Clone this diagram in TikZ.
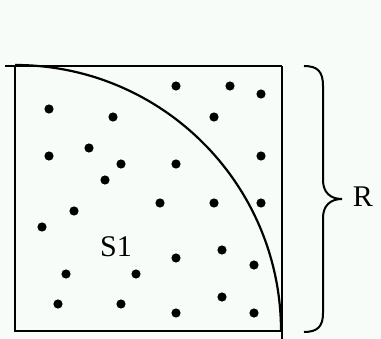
\documentclass[tikz,border=0pt]{standalone}
\usepackage{fontspec}
\setmainfont{Liberation Serif}
\definecolor{bg}{RGB}{248,252,248}
\begin{document}
\begin{tikzpicture}[x=1pt,y=-1pt,
  edge/.style={line width=2.5pt,black},
  dotmark/.style={fill=black,draw=none},
  lbl/.style={font=\fontsize{30}{34}\selectfont,inner sep=0pt}]
\fill[bg] (0,0) rectangle (381,339);
\useasboundingbox (0,0) rectangle (381,339);
% square
\draw[edge] (5,66) -- (282,66);
\draw[edge] (15,66) -- (15,331) -- (282,331);
\draw[edge] (282,66) -- (282,339);
% quarter circle
\draw[line width=2.2pt] (15,65) arc[start angle=-90,end angle=0,radius=266];
% dots
\foreach \p in {(49,109),(113,117),(49,156),(89,148),(121,164),(105,180),
  (176,86),(230,86),(261,94),(214,117),(261,156),(176,164),
  (74,211),(42,227),(66,274),(136,274),(58,304),(121,304),
  (160,203),(214,203),(261,203),(176,258),(222,250),(254,265),
  (222,297),(176,313),(254,313)}
  \fill[dotmark] \p circle[radius=4.6pt];
% labels
\node[lbl] (s1) at (116,247) {S1};
\node[lbl] (r) at (363,197) {R};
% brace
\draw[line width=2pt] (304,66) .. controls (318,66) and (323,72) .. (323,86)
  -- (323,180) .. controls (323,192) and (330,199) .. (342,199)
  .. controls (330,199) and (323,206) .. (323,218)
  -- (323,313) .. controls (323,326) and (318,332) .. (304,332);
\end{tikzpicture}
\end{document}
